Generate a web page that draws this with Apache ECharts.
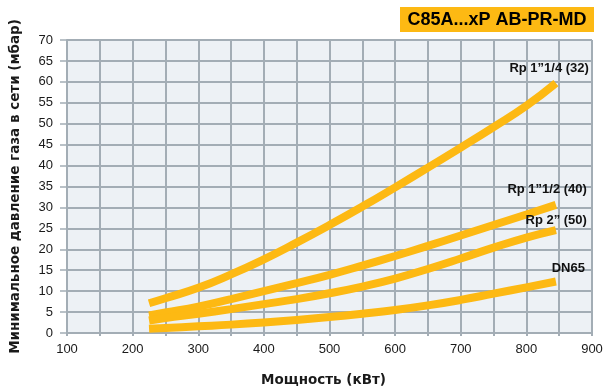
<!DOCTYPE html>
<html><head><meta charset="utf-8">
<script src="https://cdn.jsdelivr.net/npm/echarts@6/dist/echarts.min.js"></script>
<style>html,body{margin:0;padding:0;background:#fff}#c{width:608px;height:392px}</style>
</head><body><div id="c"></div>
<script>
var xPower = [225, 250, 300, 350, 400, 450, 500, 550, 600, 650, 700, 750, 800, 845];
var sRp114 = [7.1, 8.3, 10.8, 14.0, 17.6, 21.6, 25.8, 30.2, 34.8, 39.5, 44.3, 49.2, 54.3, 59.7];
var sRp112 = [4.2, 4.9, 6.3, 8.1, 10.0, 11.9, 13.9, 16.1, 18.4, 20.8, 23.3, 25.8, 28.3, 30.6];
var sRp2 = [3.0, 3.6, 4.6, 5.7, 6.9, 8.1, 9.5, 11.1, 13.0, 15.3, 17.8, 20.4, 22.8, 24.6];
var sDN65 = [1.0, 1.2, 1.6, 2.0, 2.5, 3.1, 3.8, 4.6, 5.5, 6.6, 7.9, 9.4, 10.9, 12.3];
var seriesNames = ['Rp 1\u201d1/4 (32)', 'Rp 1\u201d1/2 (40)', 'Rp 2\u201d (50)', 'DN65'];
var seriesValues = [sRp114, sRp112, sRp2, sDN65];
var labelOffsets = [[33, -15], [31, -15], [31, -10], [29, -13]];
var titleText = 'C85A...xP AB-PR-MD';
var xName = 'Мощность (кВт)';
var yName = 'Минимальное давление газа в сети (мбар)';

var gridCol = '#a3adb5';
var yellow = '#FDB913';
var chart = echarts.init(document.getElementById('c'), null, {renderer: 'canvas'});
var series = seriesValues.map(function (vals, i) {
  return {
    type: 'line', name: seriesNames[i], smooth: 0.5, showSymbol: false, symbol: 'none',
    data: xPower.map(function (x, j) { return [x, vals[j]]; }),
    lineStyle: {color: yellow, width: 8, cap: 'butt'}, z: 5
  };
});
chart.setOption({
  animation: false,
  grid: {left: 64, right: 16, top: 40, bottom: 58, show: true, backgroundColor: '#edf1f5', borderWidth: 0},
  xAxis: {
    type: 'value', min: 100, max: 900, interval: 100,
    name: xName, nameLocation: 'middle', nameGap: 40,
    nameTextStyle: {fontFamily: 'DejaVu Sans', fontWeight: 'bold', fontSize: 13.5, color: '#1a1a1a', padding: [0, 12, 0, 0]},
    axisLine: {show: true, lineStyle: {color: gridCol, width: 2}},
    axisTick: {show: true, length: 3, lineStyle: {color: gridCol, width: 2}},
    minorTick: {show: true, splitNumber: 2, length: 3, lineStyle: {color: gridCol, width: 2}},
    axisLabel: {fontFamily: 'Liberation Sans', fontSize: 13, color: '#1a1a1a', margin: 10},
    splitLine: {show: true, lineStyle: {color: gridCol, width: 2}},
    minorSplitLine: {show: true, lineStyle: {color: gridCol, width: 2}}
  },
  yAxis: {
    type: 'value', min: 0, max: 70, interval: 5,
    name: yName, nameLocation: 'middle', nameGap: 45,
    nameTextStyle: {fontFamily: 'DejaVu Sans', fontWeight: 'bold', fontSize: 13.5, color: '#1a1a1a'},
    axisLine: {show: true, lineStyle: {color: gridCol, width: 2}},
    axisTick: {show: true, length: 7, lineStyle: {color: gridCol, width: 1.5}},
    axisLabel: {fontFamily: 'Liberation Sans', fontSize: 13, color: '#1a1a1a', margin: 14},
    splitLine: {show: true, lineStyle: {color: gridCol, width: 2}}
  },
  series: series
});
var g = [{
  type: 'rect', shape: {x: 400, y: 7, width: 194, height: 25}, style: {fill: yellow}, z: 10
}, {
  type: 'text', x: 497, y: 20, z: 11,
  style: {text: titleText, fontFamily: 'Liberation Sans', fontWeight: 'bold', fontSize: 18, fill: '#000', align: 'center', verticalAlign: 'middle'}
}];
seriesValues.forEach(function (vals, i) {
  var p = chart.convertToPixel({gridIndex: 0}, [xPower[xPower.length - 1], vals[vals.length - 1]]);
  g.push({
    type: 'text', x: p[0] + labelOffsets[i][0], y: p[1] + labelOffsets[i][1], z: 11,
    style: {text: seriesNames[i], fontFamily: 'Liberation Sans', fontWeight: 'bold', fontSize: 13, fill: '#111', align: 'right', verticalAlign: 'middle'}
  });
});
chart.setOption({graphic: g});
</script></body></html>
